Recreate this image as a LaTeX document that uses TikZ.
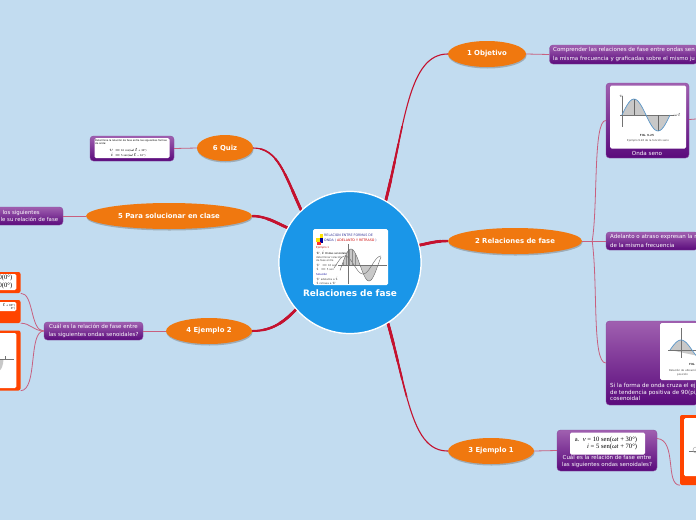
\documentclass[tikz,border=0pt]{standalone}
\usepackage{fontspec}
\setmainfont{DejaVu Sans}
\newfontfamily\serifimg{Liberation Serif}
\usetikzlibrary{shapes.geometric,shadows,calc}
\definecolor{bgblue}{HTML}{C2DCF0}
\definecolor{hub}{HTML}{1A96E8}
\definecolor{mainor}{HTML}{F0780F}
\definecolor{branchred}{HTML}{C4122F}
\definecolor{sublink}{HTML}{C8607F}
\definecolor{purptop}{HTML}{A060B0}
\definecolor{purpbot}{HTML}{5A0A7C}
\definecolor{purpedge}{HTML}{8A4A9E}
\definecolor{frameor}{HTML}{FF4400}
\definecolor{wavefill}{HTML}{C8C8C8}
\definecolor{waveline}{HTML}{5A96C8}
\definecolor{titleblue}{HTML}{3A3A9A}
\tikzset{
  mainnode/.style={ellipse,fill=mainor,draw=none,inner sep=0pt,minimum height=26pt,text=white,
    font=\bfseries\fontsize{6.9}{9}\selectfont,drop shadow={shadow xshift=0.5pt,shadow yshift=-1.5pt,fill=black!55,opacity=.45}},
  hubdisc/.style={circle,minimum size=142pt,inner sep=0pt,fill=hub,draw=white,line width=1.2pt},
  purplebox/.style={rounded corners=3.5pt,top color=purptop,bottom color=purpbot,draw=purpedge,line width=.4pt},
  frame/.style={rounded corners=2pt,fill=frameor,draw=none},
  whitecard/.style={rounded corners=1.5pt,fill=white,draw=none},
  boxtext/.style={text=white,font=\fontsize{5.5}{8.4}\selectfont,inner sep=0pt,align=left,anchor=west},
  sub/.style={draw=sublink,line width=.8pt},
  tiny/.style={font=\fontsize{2.6}{3}\selectfont,text=black!75,inner sep=0pt},
  axis/.style={draw=black!55,line width=.35pt},
}
\newcommand{\mainlabel}[1]{\raisebox{-1pt}{#1}}
\newcommand{\taperlink}[1]{%
  \draw[branchred,line width=2.8pt,dash pattern=on 22pt off 900pt] #1;
  \draw[branchred,line width=2.4pt,dash pattern=on 40pt off 900pt] #1;
  \draw[branchred,line width=2pt,dash pattern=on 58pt off 900pt] #1;
  \draw[branchred,line width=1.6pt,dash pattern=on 76pt off 900pt] #1;
  \draw[branchred,line width=1.1pt] #1;
}
\begin{document}
\begin{tikzpicture}[x=1pt,y=-1pt]
\useasboundingbox (0,0) rectangle (696,520);
\fill[bgblue] (0,0) rectangle (696,520);

\node[hubdisc] (hubc) at (350,262.5) {};
\node[mainnode,minimum width=78pt] (n1) at (487,54) {\mainlabel{1 Objetivo}};
\node[mainnode,minimum width=134pt] (n2) at (515,241) {\mainlabel{2 Relaciones de fase}};
\node[mainnode,minimum width=86pt] (n3) at (491,451) {\mainlabel{3 Ejemplo 1}};
\node[mainnode,minimum width=86pt] (n4) at (209,331) {\mainlabel{4 Ejemplo 2}};
\node[mainnode,minimum width=166pt] (n5) at (169,216) {\mainlabel{5 Para solucionar en clase}};
\node[mainnode,minimum width=56pt] (n6) at (225,148) {\mainlabel{6 Quiz}};

% ---------- thick branches
\taperlink{(hubc.60) .. controls (405,125) and (408,54) .. (n1.west)}
\taperlink{(hubc.14) .. controls (430,243) and (436,241) .. (n2.west)}
\taperlink{(hubc.-58) .. controls (408,395) and (412,451) .. (n3.west)}
\taperlink{(hubc.221) .. controls (284,322) and (272,331) .. (n4.east)}
\taperlink{(hubc.151) .. controls (275,222) and (265,216) .. (n5.east)}
\taperlink{(hubc.133) .. controls (285,175) and (278,148) .. (n6.east)}
\node[hubdisc] (hubtop) at (350,262.5) {};

% ---------- hub picture
\node[whitecard,minimum width=75pt,minimum height=56pt,inner sep=0pt] (hubimg) at (350.5,257) {};
\fill[yellow!85!orange] (316,238) rectangle (320,242);
\fill[yellow!85!orange] (319.5,234) rectangle (323,238);
\fill[blue!60!black] (320,238) rectangle (323,243);
\fill[red!80] (317,242) rectangle (321,245);
\node[tiny,font=\fontsize{3.25}{4}\selectfont,text=titleblue,anchor=west] (hubt1) at (324,235) {RELACION ENTRE FORMAS DE};
\node[tiny,font=\fontsize{3.25}{4}\selectfont,text=titleblue,anchor=west] (hubt2) at (324,240.5) {ONDA ( \textcolor{red!80!black}{ADELANTO Y RETRASO} )};
\node[tiny,anchor=west,text=red!70!black] (hubt3) at (316,247.5) {Ejemplo 1};
\node[tiny,anchor=west,text=black] (hubt4) at (316,252.5) {$v$, $i$ Ondas senoidales};
\node[tiny,anchor=west] (hubt5) at (316,257.5) {determinar relación};
\node[tiny,anchor=west] (hubt6) at (316,261) {de fase entre};
\node[tiny,anchor=west] (hubt7) at (316,265) {$v=$ 10 sen};
\node[tiny,anchor=west] (hubt8) at (316,269) {$i=$ 5 sen};
\node[tiny,anchor=west,text=blue!60!black] (hubt9) at (316,274) {Solución};
\node[tiny,anchor=west] (hubt10) at (316,279) {$v$ adelanta a $i$};
\node[tiny,anchor=west] (hubt11) at (316,283) {$i$ retrasa a $v$};
\fill[wavefill] plot[domain=342:378,samples=40,smooth] (\x,{265-16*sin((\x-342)*10)}) -- cycle;
\draw[axis] (348,244) -- (348,284) (338,265) -- (387,265);
\draw[black!60,line width=.4pt] plot[domain=340:381,samples=40,smooth] (\x,{265-16*sin((\x-342)*10)});
\draw[black!60,line width=.4pt] plot[domain=334:381,samples=40,smooth] (\x,{265-9*sin((\x-336)*10)});
\foreach \hx in {343,346,349,352,355}{\draw[black!45,line width=.25pt] (\hx,265) -- (\hx,{265-16*sin((\hx-342)*10)});}
\node[text=white,font=\bfseries\fontsize{8.9}{10}\selectfont,inner sep=0pt] (hubname) at (350,293) {Relaciones de fase};

% ---------- purple boxes
\node[purplebox,minimum width=148pt,minimum height=19pt,inner sep=0pt] (b1) at (623.5,54.5) {};
\node[boxtext] (b1t) at (553,54.5) {Comprender las relaciones de fase entre ondas sen\\la misma frecuencia y graficadas sobre el mismo ju};

\node[purplebox,minimum width=83pt,minimum height=75pt,inner sep=0pt] (b2) at (647.5,120.5) {};
\node[whitecard,minimum width=76pt,minimum height=63pt,inner sep=0pt] (b2img) at (648,117) {};
\fill[wavefill] plot[domain=622:670,samples=30,smooth] (\x,{115-16*sin((\x-622)*7.5)}) -- cycle;
\draw[axis] (622,96) -- (622,127) (620,115) -- (674,115);
\draw[black!60,line width=.5pt] (634,99) -- (634,115) (658,115) -- (658,131);
\draw[waveline,line width=.7pt] plot[domain=622:670,samples=30,smooth] (\x,{115-16*sin((\x-622)*7.5)});
\node[tiny] (b2l1) at (621,96) {$v$};
\node[tiny] (b2l2) at (677,115) {$\omega t$};
\node[tiny,font=\bfseries\fontsize{2.8}{3}\selectfont] (b2fig) at (647,135.5) {FIG. 9.25};
\node[tiny] (b2cap) at (648,140.5) {Ejemplo 9.26 de la función seno};
\node[text=white,font=\fontsize{5.6}{7}\selectfont,inner sep=0pt] (b2t) at (647,153) {Onda seno};
\coordinate (b2out) at (696,119);

\node[purplebox,minimum width=92pt,minimum height=18pt,inner sep=0pt] (b3) at (652,241) {};
\node[boxtext] (b3t) at (610,241) {Adelanto o atraso expresan la r\\de la misma frecuencia};

\node[purplebox,minimum width=92pt,minimum height=84pt,inner sep=0pt] (b4) at (652,363) {};
\node[whitecard,minimum width=40pt,minimum height=57pt,inner sep=0pt] (b4img) at (680,351.5) {};
\fill[wavefill] plot[domain=670:696,samples=20,smooth] (\x,{350-10*cos((\x-681)*8.2)}) -- cycle;
\draw[axis] (681,328) -- (681,358) (668,350) -- (696,350);
\draw[waveline,line width=.7pt] plot[domain=670:696,samples=20,smooth] (\x,{350-10*cos((\x-681)*8.2)});
\node[tiny,anchor=west,font=\bfseries\fontsize{2.8}{3}\selectfont] (b4fig) at (689,364) {FIG.};
\node[tiny,anchor=west] (b4cap) at (669,370) {Relación de ubicación};
\node[tiny,anchor=west] (b4cap2) at (677,375) {posición};
\node[boxtext,font=\fontsize{5.6}{6.8}\selectfont] (b4t) at (610,392) {Si la forma de onda cruza el ej\\de tendencia positiva de 90(pi/\\cosenoidal};

\node[purplebox,minimum width=100pt,minimum height=41pt,inner sep=0pt] (b5) at (607,450.5) {};
\node[whitecard,minimum width=75pt,minimum height=22pt,inner sep=0pt] (b5img) at (607.5,443.5) {};
\node[inner sep=0pt,font=\serifimg\fontsize{6.6}{7.8}\selectfont,text=black,align=right] (b5m) at (606,443.5) {a.\ \ \textit{v} = 10 sen(\textit{ωt} + 30°)\\\textit{i} = 5 sen(\textit{ωt} + 70°)};
\node[text=white,font=\fontsize{5.5}{7.5}\selectfont,inner sep=0pt,align=center] (b5t) at (607,461.5) {Cuál es la relación de fase entre\\ las siguientes ondas senoidales?};

\node[purplebox,minimum width=99pt,minimum height=18pt,inner sep=0pt] (b6) at (93.5,331) {};
\node[text=white,font=\fontsize{5.5}{7.5}\selectfont,inner sep=0pt,align=center] (b6t) at (93.5,331) {Cuál es la relación de fase entre\\ las siguientes ondas senoidales?};

\node[purplebox,minimum width=84pt,minimum height=25pt,inner sep=0pt] (b7) at (132,148.5) {};
\node[whitecard,minimum width=75pt,minimum height=20pt,inner sep=0pt] (b7img) at (132,148) {};
\node[tiny,font=\fontsize{2.5}{3}\selectfont,anchor=north west,align=left,text=black] (b7a) at (95,139) {Determine la relación de fase entre las siguientes formas\\de onda:};
\node[tiny,font=\fontsize{2.5}{3}\selectfont,text=black] (b7b) at (128,150) {$v=$ 10 cos($\omega t$ + 30°)};
\node[tiny,font=\fontsize{2.5}{3}\selectfont,text=black] (b7c) at (128,155) {$i=$ 5 sen($\omega t$ − 10°)};

\node[purplebox,minimum width=70pt,minimum height=18pt,inner sep=0pt] (b8) at (28,216) {};
\node[boxtext,font=\fontsize{5.4}{7.8}\selectfont] (b8t) at (0.5,216) {\hspace{2pt}los siguientes\\le su relación de fase};

% ---------- orange framed pictures
\node[frame,minimum width=32pt,minimum height=21pt,inner sep=0pt] (f1) at (4.5,282.5) {};
\node[whitecard,minimum width=28pt,minimum height=16pt,inner sep=0pt] (f1w) at (2.3,282) {};
\node[inner sep=0pt,anchor=east,font=\serifimg\fontsize{6.6}{7.6}\selectfont,align=right] (f1t) at (12.5,282) {0(0°)\\0(0°)};
\node[frame,minimum width=32pt,minimum height=23pt,inner sep=0pt] (f2) at (4.5,311.5) {};
\node[whitecard,minimum width=28pt,minimum height=9pt,inner sep=0pt] (f2w) at (2.3,306.5) {};
\node[tiny,anchor=east,align=right,text=black] (f2t) at (15,306.5) {$t$ + 90°)\\0°)};
\node[frame,minimum width=32pt,minimum height=60pt,inner sep=0pt] (f3) at (4.5,360.5) {};
\node[whitecard,minimum width=28pt,minimum height=55pt,inner sep=0pt] (f3w) at (2.3,360.5) {};
\fill[wavefill] (0,359) -- (3.5,359) .. controls (3.5,365) and (1,370) .. (0,370) -- cycle;
\draw[axis] (0,359) -- (14,359) (5,356) -- (5,360);
\node[frame,minimum width=32pt,minimum height=70pt,inner sep=0pt] (f4) at (696,450) {};
\node[whitecard,minimum width=28pt,minimum height=58pt,inner sep=0pt] (f4w) at (698,447) {};
\draw[axis] (689,451) -- (696,451);
\draw[black!40,line width=.4pt] (696,447) .. controls (692,447) and (692,453) .. (696,453);

% ---------- thin links
\draw[sub] (n1.east) -- (b1.west);
\draw[sub] (n2.east) -- (b3.west);
\draw[sub] (n3.east) -- (b5.west);
\draw[sub] (n4.west) -- (b6.east);
\draw[sub] (n5.west) -- (b8.east);
\draw[sub] (n6.west) -- (b7.east);
\draw[sub] (b2.east) ++(0,-1) -- (b2out);
\draw[sub] ($(n2.east)+(10,0)$) .. controls (598,205) and (593,120) .. (b2.west);
\draw[sub] ($(n2.east)+(10,0)$) .. controls (598,285) and (592,363) .. (b4.west);
\draw[sub] (b5.east) ++(0,-12) .. controls (677,440) and (665,485) .. (f4.south west);
\draw[sub] (b6.west) .. controls (30,331) and (34,293) .. (f1.south east);
\draw[sub] (b6.west) .. controls (34,331) and (30,323) .. (f2.south east);
\draw[sub] (b6.west) .. controls (28,331) and (38,390) .. (f3.south east);
\end{tikzpicture}
\end{document}
